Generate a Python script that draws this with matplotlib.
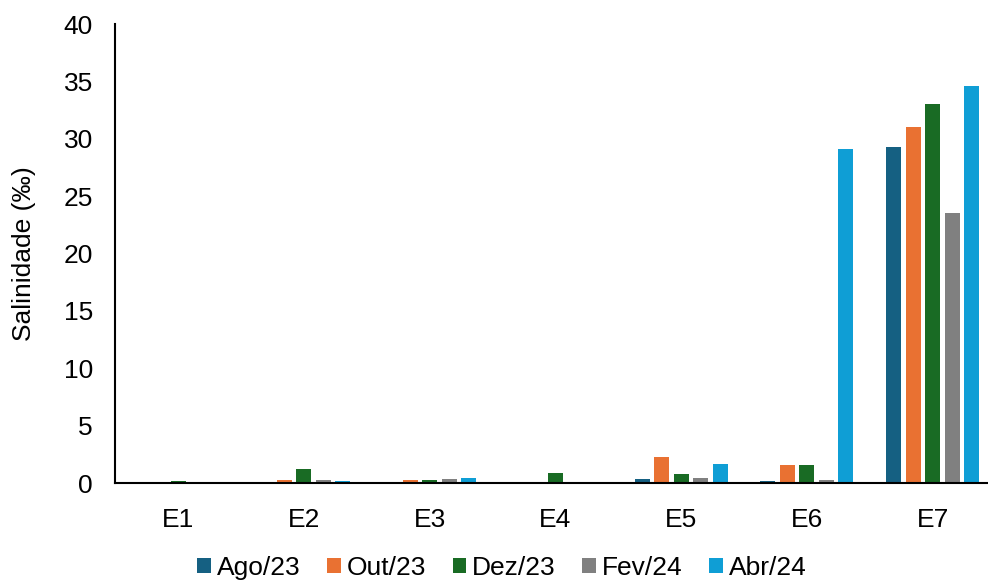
import matplotlib
matplotlib.use("Agg")
import matplotlib.pyplot as plt
import numpy as np

plt.rcParams['font.family'] = ['Liberation Sans', 'DejaVu Sans']

stations = ['E1', 'E2', 'E3', 'E4', 'E5', 'E6', 'E7']
months = ['Ago/23', 'Out/23', 'Dez/23', 'Fev/24', 'Abr/24']
ago23 = [0.05, 0.1, 0.1, 0.0, 0.35, 0.15, 29.3]
out23 = [0.05, 0.3, 0.3, 0.05, 2.25, 1.6, 31.0]
dez23 = [0.17, 1.2, 0.3, 0.85, 0.75, 1.55, 33.0]
fev24 = [0.0, 0.25, 0.35, 0.0, 0.45, 0.3, 23.5]
abr24 = [0.0, 0.2, 0.4, 0.0, 1.7, 29.1, 34.6]
colors = ['#156082', '#E97132', '#196B24', '#808080', '#0F9ED5']

series = [ago23, out23, dez23, fev24, abr24]

fig = plt.figure(figsize=(9.88, 5.83), dpi=100)
ax = fig.add_axes([0.1166, 0.1715, 0.891, 0.7873])

x = np.arange(len(stations))
pitch = 0.155
for i, (vals, lab, c) in enumerate(zip(series, months, colors)):
    ax.bar(x + (i - 2) * pitch, vals, width=0.12, color=c, label=lab, zorder=2)

ax.set_xlim(-0.5, 6.5)
ax.set_ylim(0, 40)
ax.set_yticks(range(0, 41, 5))
ax.set_xticks(x)
ax.set_xticklabels(stations)
ax.tick_params(axis='both', length=0, labelsize=19)
ax.tick_params(axis='x', pad=18)
ax.tick_params(axis='y', pad=16)
for s in ['top', 'right']:
    ax.spines[s].set_visible(False)
ax.spines['left'].set_linewidth(1.5)
ax.spines['bottom'].set_linewidth(1.5)
ax.set_ylabel('Salinidade (‰)', fontsize=19, labelpad=20)

fig.legend(loc='center', bbox_to_anchor=(0.508, 0.026), ncol=5, frameon=False,
           fontsize=19, handlelength=0.53, handleheight=0.53, handletextpad=0.22,
           columnspacing=1.0)

fig.savefig('out.png', dpi=100)
